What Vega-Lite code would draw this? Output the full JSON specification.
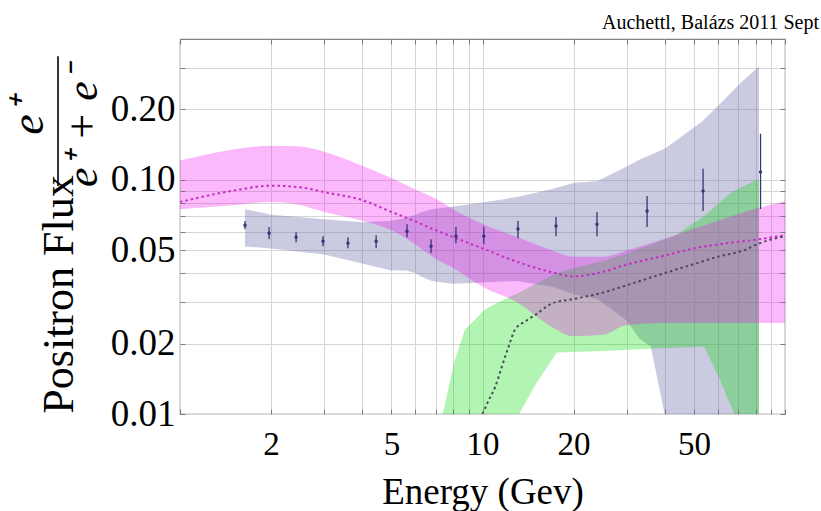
{
  "$schema": "https://vega.github.io/schema/vega-lite/v6.json",
  "width": 605,
  "height": 375,
  "autosize": {"type": "none"},
  "padding": {"left": 180, "top": 39, "right": 36, "bottom": 97},
  "background": "white",
  "title": {
    "text": "Auchettl, Balázs 2011 Sept",
    "anchor": "end",
    "frame": "group",
    "fontSize": 20,
    "fontWeight": "normal",
    "color": "#000000",
    "baseline": "alphabetic",
    "dx": 34,
    "dy": 22,
    "offset": 12
  },
  "config": {
    "font": "'Liberation Serif', 'Times New Roman', Times, serif",
    "view": {"stroke": "#808080", "strokeWidth": 1.2},
    "axis": {
      "labelColor": "#000000",
      "titleColor": "#000000",
      "titleFontWeight": "normal",
      "domain": false,
      "ticks": false,
      "grid": false
    }
  },
  "resolve": {"axis": {"x": "independent", "y": "independent"}},
  "datasets": {
    "grayBand": [
      {"energy": 1.64, "low": 0.052, "high": 0.075},
      {"energy": 2, "low": 0.051, "high": 0.071},
      {"energy": 3, "low": 0.048, "high": 0.068},
      {"energy": 4, "low": 0.044, "high": 0.066},
      {"energy": 5, "low": 0.041, "high": 0.067},
      {"energy": 5.6, "low": 0.041, "high": 0.069},
      {"energy": 6, "low": 0.04, "high": 0.071},
      {"energy": 6.3, "low": 0.0385, "high": 0.073},
      {"energy": 6.8, "low": 0.037, "high": 0.075},
      {"energy": 8, "low": 0.036, "high": 0.077},
      {"energy": 10, "low": 0.0365, "high": 0.08},
      {"energy": 13, "low": 0.037, "high": 0.0845},
      {"energy": 17, "low": 0.035, "high": 0.0915},
      {"energy": 20, "low": 0.0325, "high": 0.097},
      {"energy": 24, "low": 0.031, "high": 0.099},
      {"energy": 30, "low": 0.025, "high": 0.114},
      {"energy": 33, "low": 0.021, "high": 0.122},
      {"energy": 36, "low": 0.0194, "high": 0.128},
      {"energy": 40, "low": 0.01, "high": 0.136},
      {"energy": 46, "low": 0.01, "high": 0.155},
      {"energy": 53, "low": 0.01, "high": 0.177},
      {"energy": 62, "low": 0.01, "high": 0.216},
      {"energy": 72, "low": 0.01, "high": 0.263},
      {"energy": 82, "low": 0.01, "high": 0.305}
    ],
    "greenBand": [
      {"energy": 7.4, "low": 0.01, "high": 0.0101},
      {"energy": 8.1, "low": 0.01, "high": 0.017},
      {"energy": 8.75, "low": 0.01, "high": 0.0229},
      {"energy": 10.2, "low": 0.01, "high": 0.028},
      {"energy": 11.3, "low": 0.01, "high": 0.03},
      {"energy": 13.2, "low": 0.01, "high": 0.033},
      {"energy": 15, "low": 0.0134, "high": 0.036},
      {"energy": 17.6, "low": 0.0183, "high": 0.04},
      {"energy": 20, "low": 0.0184, "high": 0.042},
      {"energy": 25, "low": 0.0186, "high": 0.045},
      {"energy": 30, "low": 0.0188, "high": 0.0485},
      {"energy": 36, "low": 0.019, "high": 0.053},
      {"energy": 43, "low": 0.0192, "high": 0.0575},
      {"energy": 54, "low": 0.0194, "high": 0.07},
      {"energy": 61, "low": 0.014, "high": 0.08},
      {"energy": 64, "low": 0.012, "high": 0.0854},
      {"energy": 68, "low": 0.01, "high": 0.09},
      {"energy": 82, "low": 0.01, "high": 0.101}
    ],
    "pinkBand": [
      {"energy": 1, "low": 0.075, "mid": 0.0805, "high": 0.121},
      {"energy": 1.5, "low": 0.078, "mid": 0.09, "high": 0.135},
      {"energy": 2, "low": 0.0805, "mid": 0.0945, "high": 0.14},
      {"energy": 2.5, "low": 0.078, "mid": 0.093, "high": 0.139},
      {"energy": 3, "low": 0.073, "mid": 0.0887, "high": 0.132},
      {"energy": 4, "low": 0.067, "mid": 0.082, "high": 0.115},
      {"energy": 5, "low": 0.061, "mid": 0.073, "high": 0.102},
      {"energy": 6, "low": 0.053, "mid": 0.0665, "high": 0.091},
      {"energy": 7, "low": 0.046, "mid": 0.061, "high": 0.083},
      {"energy": 8, "low": 0.042, "mid": 0.057, "high": 0.075},
      {"energy": 10, "low": 0.035, "mid": 0.051, "high": 0.065},
      {"energy": 13, "low": 0.03, "mid": 0.0447, "high": 0.057},
      {"energy": 17, "low": 0.0235, "mid": 0.0403, "high": 0.05},
      {"energy": 20, "low": 0.0215, "mid": 0.0387, "high": 0.047},
      {"energy": 25, "low": 0.0218, "mid": 0.0405, "high": 0.047},
      {"energy": 30, "low": 0.024, "mid": 0.0435, "high": 0.05},
      {"energy": 40, "low": 0.0245, "mid": 0.0475, "high": 0.056},
      {"energy": 50, "low": 0.0245, "mid": 0.051, "high": 0.062},
      {"energy": 60, "low": 0.0245, "mid": 0.053, "high": 0.067},
      {"energy": 82, "low": 0.0245, "mid": 0.0558, "high": 0.076},
      {"energy": 100, "low": 0.0245, "mid": 0.058, "high": 0.081}
    ],
    "backgroundCurve": [
      {"energy": 10, "fraction": 0.01},
      {"energy": 10.5, "fraction": 0.0115},
      {"energy": 11, "fraction": 0.013},
      {"energy": 11.6, "fraction": 0.016},
      {"energy": 12.2, "fraction": 0.0194},
      {"energy": 12.8, "fraction": 0.0229},
      {"energy": 13.8, "fraction": 0.0248},
      {"energy": 15, "fraction": 0.0266},
      {"energy": 17, "fraction": 0.0297},
      {"energy": 20, "fraction": 0.031},
      {"energy": 25, "fraction": 0.033},
      {"energy": 30, "fraction": 0.0355},
      {"energy": 40, "fraction": 0.04},
      {"energy": 50, "fraction": 0.0437},
      {"energy": 60, "fraction": 0.047},
      {"energy": 73, "fraction": 0.05},
      {"energy": 82, "fraction": 0.0535},
      {"energy": 100, "fraction": 0.0575}
    ],
    "measurements": [
      {"energy": 1.64, "fraction": 0.0641, "low": 0.0617, "high": 0.0667},
      {"energy": 1.97, "fraction": 0.0592, "low": 0.0558, "high": 0.0629},
      {"energy": 2.42, "fraction": 0.0569, "low": 0.0542, "high": 0.0598},
      {"energy": 2.97, "fraction": 0.0547, "low": 0.0521, "high": 0.0575},
      {"energy": 3.59, "fraction": 0.0537, "low": 0.0511, "high": 0.0569},
      {"energy": 4.45, "fraction": 0.0547, "low": 0.0511, "high": 0.058},
      {"energy": 5.63, "fraction": 0.0604, "low": 0.0569, "high": 0.0647},
      {"energy": 6.76, "fraction": 0.0521, "low": 0.0487, "high": 0.0558},
      {"energy": 8.17, "fraction": 0.0575, "low": 0.0537, "high": 0.0629},
      {"energy": 10.1, "fraction": 0.0575, "low": 0.0531, "high": 0.0629},
      {"energy": 13.1, "fraction": 0.0617, "low": 0.0564, "high": 0.0667},
      {"energy": 17.5, "fraction": 0.0635, "low": 0.0575, "high": 0.0694},
      {"energy": 23.9, "fraction": 0.0647, "low": 0.0575, "high": 0.0729},
      {"energy": 35, "fraction": 0.0736, "low": 0.0629, "high": 0.0854},
      {"energy": 53.6, "fraction": 0.0897, "low": 0.0736, "high": 0.1115},
      {"energy": 83, "fraction": 0.108, "low": 0.0751, "high": 0.1576}
    ]
  },
  "layer": [
    {
      "data": {"name": "grayBand"},
      "mark": {"type": "area", "color": "#5a5aa0", "opacity": 0.32, "clip": true},
      "encoding": {
        "x": {
          "field": "energy", "type": "quantitative",
          "scale": {"type": "log", "domain": [1, 100], "nice": false},
          "axis": {
            "orient": "bottom",
            "values": [1, 2, 3, 4, 5, 6, 7, 8, 9, 10, 20, 30, 40, 50, 60, 70, 80, 90, 100],
            "grid": true, "gridColor": "#d6d6d6", "gridWidth": 1,
            "labelExpr": "indexof([2, 5, 10, 20, 50], datum.value) >= 0 ? format(datum.value, 'd') : ''",
            "labelFontSize": 33, "labelPadding": 14,
            "labelOverlap": false, "labelBound": false, "labelFlush": false,
            "title": "Energy (Gev)",
            "titleFontSize": 37, "titleFontWeight": "normal",
            "titleY": 89, "titleBaseline": "alphabetic",
            "zindex": 0
          }
        },
        "y": {
          "field": "low", "type": "quantitative",
          "scale": {"type": "log", "domain": [0.01, 0.4], "nice": false},
          "axis": {
            "orient": "left",
            "values": [0.01, 0.02, 0.03, 0.04, 0.05, 0.06, 0.07, 0.08, 0.09, 0.1, 0.2, 0.3],
            "grid": true, "gridColor": "#d6d6d6", "gridWidth": 1,
            "labelExpr": "indexof([0.01, 0.02, 0.05, 0.1, 0.2], datum.value) >= 0 ? format(datum.value, '.2f') : ''",
            "labelFontSize": 37, "labelPadding": 5,
            "labelOverlap": false, "labelBound": false, "labelFlush": false,
            "title": "Positron Flux",
            "titleFontSize": 44, "titleFontWeight": "normal",
            "titleAngle": 270, "titleAlign": "center", "titleBaseline": "alphabetic",
            "titleX": -108, "titleY": 255,
            "zindex": 0
          }
        },
        "y2": {"field": "high"}
      }
    },
    {
      "data": {"name": "greenBand"},
      "mark": {"type": "area", "color": "#00dc00", "opacity": 0.3, "clip": true},
      "encoding": {
        "x": {
          "field": "energy", "type": "quantitative",
          "axis": {
            "orient": "bottom",
            "values": [1, 2, 3, 4, 5, 6, 7, 8, 9, 10, 20, 30, 40, 50, 60, 70, 80, 90, 100],
            "labels": false, "ticks": true, "tickSize": -5, "tickColor": "#7a7a7a",
            "grid": false, "title": null, "zindex": 1
          }
        },
        "y": {
          "field": "low", "type": "quantitative",
          "axis": {
            "orient": "left",
            "values": [0.01, 0.02, 0.03, 0.04, 0.05, 0.06, 0.07, 0.08, 0.09, 0.1, 0.2, 0.3],
            "labels": false, "ticks": true, "tickSize": -5, "tickColor": "#7a7a7a",
            "grid": false, "title": null, "zindex": 1
          }
        },
        "y2": {"field": "high"}
      }
    },
    {
      "data": {"name": "pinkBand"},
      "mark": {"type": "area", "color": "#f200f2", "opacity": 0.28, "interpolate": "monotone", "clip": true},
      "encoding": {
        "x": {
          "field": "energy", "type": "quantitative",
          "axis": {
            "orient": "top",
            "values": [1, 2, 3, 4, 5, 6, 7, 8, 9, 10, 20, 30, 40, 50, 60, 70, 80, 90, 100],
            "labels": false, "ticks": true, "tickSize": -5, "tickColor": "#7a7a7a",
            "grid": false, "title": null, "zindex": 1
          }
        },
        "y": {
          "field": "low", "type": "quantitative",
          "axis": {
            "orient": "right",
            "values": [0.01, 0.02, 0.03, 0.04, 0.05, 0.06, 0.07, 0.08, 0.09, 0.1, 0.2, 0.3],
            "labels": false, "ticks": true, "tickSize": -5, "tickColor": "#7a7a7a",
            "grid": false, "title": null, "zindex": 1
          }
        },
        "y2": {"field": "high"}
      }
    },
    {
      "data": {"name": "pinkBand"},
      "mark": {"type": "line", "color": "#c42cc4", "strokeWidth": 2, "strokeDash": [2.5, 3], "interpolate": "monotone", "clip": true},
      "encoding": {
        "x": {"field": "energy", "type": "quantitative", "axis": null},
        "y": {"field": "mid", "type": "quantitative", "axis": null}
      }
    },
    {
      "data": {"name": "backgroundCurve"},
      "mark": {"type": "line", "color": "#4a4a58", "strokeWidth": 2, "strokeDash": [2.5, 3], "interpolate": "monotone", "clip": true},
      "encoding": {
        "x": {"field": "energy", "type": "quantitative", "axis": null},
        "y": {"field": "fraction", "type": "quantitative", "axis": null}
      }
    },
    {
      "data": {"name": "measurements"},
      "mark": {"type": "rule", "color": "#35357a", "strokeWidth": 1.3, "clip": true},
      "encoding": {
        "x": {"field": "energy", "type": "quantitative", "axis": null},
        "y": {"field": "low", "type": "quantitative", "axis": null},
        "y2": {"field": "high"}
      }
    },
    {
      "data": {"name": "measurements"},
      "mark": {"type": "point", "filled": true, "color": "#35357a", "size": 12, "opacity": 1, "clip": true},
      "encoding": {
        "x": {"field": "energy", "type": "quantitative", "axis": null},
        "y": {"field": "fraction", "type": "quantitative", "axis": null}
      }
    },
    {
      "data": {"values": [{"label": "e⁺"}]},
      "mark": {"type": "text", "angle": 270, "align": "center", "baseline": "alphabetic", "fontSize": 46, "fontStyle": "italic", "color": "#000000"},
      "encoding": {
        "x": {"datum": 0.3524, "type": "quantitative", "axis": null},
        "y": {"datum": 0.1864, "type": "quantitative", "axis": null},
        "text": {"field": "label"}
      }
    },
    {
      "data": {"values": [{"label": "e⁺ + e⁻"}]},
      "mark": {"type": "text", "angle": 270, "align": "center", "baseline": "alphabetic", "fontSize": 44, "fontStyle": "italic", "color": "#000000"},
      "encoding": {
        "x": {"datum": 0.5316, "type": "quantitative", "axis": null},
        "y": {"datum": 0.1688, "type": "quantitative", "axis": null},
        "text": {"field": "label"}
      }
    },
    {
      "data": {"values": [{}]},
      "mark": {"type": "rule", "color": "#000000", "strokeWidth": 1.6},
      "encoding": {
        "x": {"datum": 0.3951, "type": "quantitative", "axis": null},
        "y": {"datum": 0.3372, "type": "quantitative", "axis": null},
        "y2": {"datum": 0.0942}
      }
    }
  ]
}
